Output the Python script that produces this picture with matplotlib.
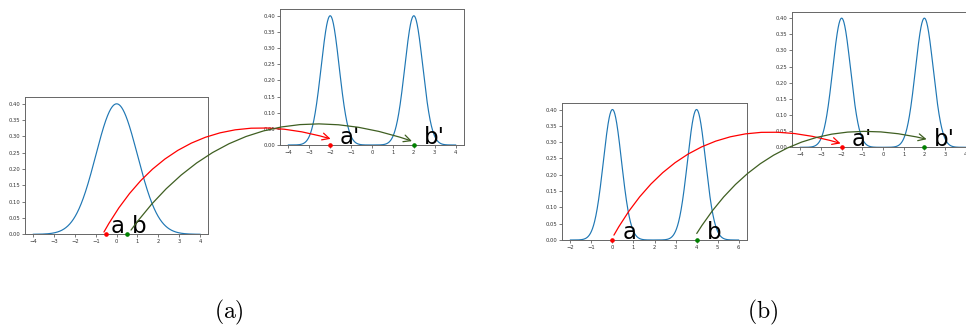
import numpy as np
import matplotlib
matplotlib.use("Agg")
import matplotlib.pyplot as plt
from matplotlib.patches import ConnectionPatch

# ---------------- data ----------------
# panel (a)
a_left_means = [0.0]
a_left_sigma = 1.0
a_right_means = [-2.0, 2.0]
a_right_sigma = 0.43
a_left_pts = [-0.5, 0.5]          # a, b
a_right_pts = [-2.0, 2.0]         # a', b'
a_left_xticks = [-4, -3, -2, -1, 0, 1, 2, 3, 4]
a_right_xticks = [-4, -3, -2, -1, 0, 1, 2, 3, 4]

# panel (b)
b_left_means = [0.0, 4.0]
b_left_sigma = 0.43
b_right_means = [-2.0, 2.0]
b_right_sigma = 0.43
b_left_pts = [0.0, 4.0]
b_right_pts = [-2.0, 2.0]
b_left_xticks = [-2, -1, 0, 1, 2, 3, 4, 5, 6]
b_right_xticks = [-4, -3, -2, -1, 0, 1, 2, 3, 4]

peak = 0.4
yticks = [0.00, 0.05, 0.10, 0.15, 0.20, 0.25, 0.30, 0.35, 0.40]
labels_src = ["a", "b"]
labels_dst = ["a'", "b'"]
captions = ["(a)", "(b)"]

W, H = 966, 329
fig = plt.figure(figsize=(W / 100, H / 100), dpi=100)


def rect(l, t, r, b):
    return [l / W, 1 - b / H, (r - l) / W, (b - t) / H]


def make_ax(r, xlim, xticks, means, sigma, pts, labels, label_off):
    ax = fig.add_axes(rect(*r))
    x = np.linspace(xlim[0] + 0.4, xlim[1] - 0.4, 800)
    y = np.zeros_like(x)
    for m in means:
        y = np.maximum(y, peak * np.exp(-(x - m) ** 2 / (2 * sigma ** 2)))
    ax.plot(x, y, color="#1f77b4", lw=0.85)
    ax.set_xlim(*xlim)
    ax.set_ylim(0, 0.42)
    ax.set_xticks(xticks)
    ax.set_yticks(yticks)
    ax.set_yticklabels([f"{v:.2f}" for v in yticks])
    ax.tick_params(labelsize=3.8, length=2, width=0.5, pad=1.5,
                   colors="#444444", labelcolor="#333333")
    for s in ax.spines.values():
        s.set_color("#666666")
        s.set_linewidth(0.7)
    ax.plot([pts[0]], [0], "o", color="red", ms=2.3, clip_on=False, zorder=5)
    ax.plot([pts[1]], [0], "o", color="green", ms=2.3, clip_on=False, zorder=5)
    for p, lab in zip(pts, labels):
        ax.text(p + label_off, 0.004, lab, fontsize=16.5, color="black",
                ha="left", va="baseline")
    return ax


A1 = make_ax((25, 97.3, 208.3, 234.3), (-4.4, 4.4), a_left_xticks,
             a_left_means, a_left_sigma, a_left_pts, labels_src, 0.22)
A2 = make_ax((280, 9.3, 464, 145), (-4.4, 4.4), a_right_xticks,
             a_right_means, a_right_sigma, a_right_pts, labels_dst, 0.47)
B1 = make_ax((562, 103, 747, 240), (-2.4, 6.4), b_left_xticks,
             b_left_means, b_left_sigma, b_left_pts, labels_src, 0.47)
B2 = make_ax((792, 11.7, 974, 147.3), (-4.4, 4.4), b_right_xticks,
             b_right_means, b_right_sigma, b_right_pts, labels_dst, 0.47)


def arrow(axA, xyA, axB, xyB, color, rad):
    con = ConnectionPatch(xyA=xyA, coordsA=axA.transData,
                          xyB=xyB, coordsB=axB.transData,
                          arrowstyle="->,head_length=0.5,head_width=0.25",
                          connectionstyle=f"arc3,rad={rad}",
                          color=color, lw=0.9, shrinkA=0, shrinkB=0,
                          mutation_scale=10, zorder=10)
    fig.add_artist(con)


arrow(A1, (a_left_pts[0] - 0.11, 0.007), A2, (a_right_pts[0] + 0.02, 0.019), "red", -0.4)
arrow(A1, (a_left_pts[1] + 0.19, 0.013), A2, (a_right_pts[1] - 0.09, 0.012), "#3f5f22", -0.37)
arrow(B1, (b_left_pts[0] + 0.07, 0.015), B2, (b_right_pts[0] - 0.05, 0.012), "red", -0.4)
arrow(B1, (b_left_pts[1] + 0.01, 0.02), B2, (b_right_pts[1] + 0.11, 0.025), "#3f5f22", -0.36)

plt.rcParams["mathtext.fontset"] = "cm"
fig.text(229 / W, 1 - 312 / H, r"$\mathrm{" + captions[0] + "}$", fontsize=17,
         ha="center", va="center")
fig.text(763 / W, 1 - 312 / H, r"$\mathrm{" + captions[1] + "}$", fontsize=17,
         ha="center", va="center")

fig.savefig("out.png", dpi=100)
